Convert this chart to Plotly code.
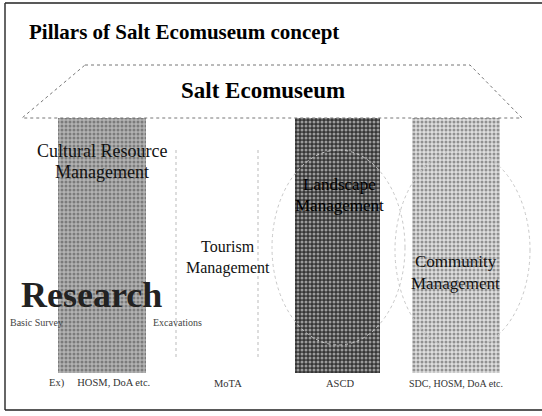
import plotly.graph_objects as go

# ---- data ----
pillars = ["Cultural Resource Management", "Tourism Management",
           "Landscape Management", "Community Management"]
pillar_height = [1, 0, 1, 1]          # Tourism has no solid pillar
pillar_label_1 = ["Cultural Resource", "Tourism", "Landscape", "Community"]
pillar_label_2 = ["Management", "Management", "Management", "Management"]
agencies = ["Ex)\u00a0\u00a0\u00a0\u00a0\u00a0HOSM, DoA etc.", "MoTA", "ASCD", "SDC, HOSM, DoA etc."]
title_text = "Pillars of Salt Ecomuseum concept"
roof_text = "Salt Ecomuseum"
research_text = "Research"
research_sub = ["Basic Survey", "Excavations"]

W, H = 542, 416
def px(x): return x / W
def py(y): return 1 - y / H

SERIF = "Liberation Serif, Times New Roman, serif"

fig = go.Figure()

# pillar styles
bg = ["#b2b2b2", "rgba(0,0,0,0)", "#363636", "#dedede"]
fg = ["#6a6a6a", "rgba(0,0,0,0)", "#9a9a9a", "#8c8c8c"]
widths = [0.74, 0.72, 0.72, 0.74]

fig.add_trace(go.Bar(
    x=list(range(len(pillars))), y=pillar_height, width=widths,
    marker=dict(color=bg, line=dict(width=0),
                pattern=dict(shape=".", fgcolor=fg, bgcolor=bg, size=4, solidity=0.45)),
    hoverinfo="skip", showlegend=False,
))

fig.update_layout(
    width=W, height=H, margin=dict(l=0, r=0, t=0, b=0),
    paper_bgcolor="white", plot_bgcolor="white",
    xaxis=dict(range=[-0.864, 3.729], visible=False, fixedrange=True),
    yaxis=dict(range=[-0.169, 1.463], visible=False, fixedrange=True),
    bargap=0,
)

shapes = []
# frame
shapes.append(dict(type="line", xref="paper", yref="paper", x0=px(5), y0=py(3), x1=px(542), y1=py(3),
                   line=dict(color="#222", width=1.5)))
shapes.append(dict(type="line", xref="paper", yref="paper", x0=px(5), y0=py(3), x1=px(5), y1=py(410),
                   line=dict(color="#333", width=1.5)))
shapes.append(dict(type="line", xref="paper", yref="paper", x0=px(5), y0=py(410), x1=px(542), y1=py(410),
                   line=dict(color="#222", width=1.5)))
# roof trapezoid
roof = [(85, 65), (470, 65), (522, 118), (22, 118)]
path = "M " + " L ".join(f"{px(x)},{py(y)}" for x, y in roof) + " Z"
shapes.append(dict(type="path", xref="paper", yref="paper", path=path,
                   line=dict(color="#777", width=1, dash="dot"), fillcolor="white"))
# faint dotted guides (Tourism column and circles)
for xv in (176, 258):
    shapes.append(dict(type="line", xref="paper", yref="paper", x0=px(xv), y0=py(150), x1=px(xv), y1=py(360),
                       line=dict(color="#bbb", width=1, dash="dot")))
shapes.append(dict(type="circle", xref="paper", yref="paper", x0=px(272), y0=py(150), x1=px(405), y1=py(345),
                   line=dict(color="#c8c8c8", width=1, dash="dot")))
shapes.append(dict(type="circle", xref="paper", yref="paper", x0=px(395), y0=py(150), x1=px(530), y1=py(350),
                   line=dict(color="#c8c8c8", width=1, dash="dot")))
fig.update_layout(shapes=shapes)

ann = []
ann.append(dict(text=f"<b>{title_text}</b>", x=px(27), y=py(32), xref="paper", yref="paper",
                xanchor="left", yanchor="middle", showarrow=False,
                font=dict(family=SERIF, size=21, color="black")))
ann.append(dict(text=f"<b>{roof_text}</b>", x=px(263), y=py(90), xref="paper", yref="paper",
                xanchor="center", yanchor="middle", showarrow=False,
                font=dict(family=SERIF, size=23, color="black")))

label_y1 = [151, 246, 184, 261]
label_y2 = [172, 268, 205, 283]
label_size = [18, 16, 17, 17]
label_col = ["#111", "#111", "#000", "#111"]
label_dx = [0, 8, 2, 0]
agency_dx = [-2, 8, 2, 0]
agency_size = [10.5, 10.5, 10.5, 10]
for i in range(len(pillars)):
    ann.append(dict(text=pillar_label_1[i], x=i, y=py(label_y1[i]), xref="x", yref="paper",
                    xanchor="center", yanchor="middle", showarrow=False, xshift=label_dx[i],
                    font=dict(family=SERIF, size=label_size[i], color=label_col[i])))
    ann.append(dict(text=pillar_label_2[i], x=i, y=py(label_y2[i]), xref="x", yref="paper",
                    xanchor="center", yanchor="middle", showarrow=False, xshift=label_dx[i],
                    font=dict(family=SERIF, size=label_size[i], color=label_col[i])))
    ann.append(dict(text=agencies[i], x=i, y=py(383), xref="x", yref="paper",
                    xanchor="center", yanchor="middle", showarrow=False, xshift=agency_dx[i],
                    font=dict(family=SERIF, size=agency_size[i], color="#333")))

ann.append(dict(text=f"<b>{research_text}</b>", x=px(91), y=py(295), xref="paper", yref="paper",
                xanchor="center", yanchor="middle", showarrow=False,
                font=dict(family=SERIF, size=36, color="#222")))
ann.append(dict(text=research_sub[0], x=px(8), y=py(322), xref="paper", yref="paper",
                xanchor="left", yanchor="middle", showarrow=False,
                font=dict(family=SERIF, size=10, color="#444")))
ann.append(dict(text=research_sub[1], x=px(151), y=py(322), xref="paper", yref="paper",
                xanchor="left", yanchor="middle", showarrow=False,
                font=dict(family=SERIF, size=10, color="#444")))
fig.update_layout(annotations=ann)

fig.write_html("out.html", config={"displayModeBar": False},
               post_script="document.body.style.margin='0';")
